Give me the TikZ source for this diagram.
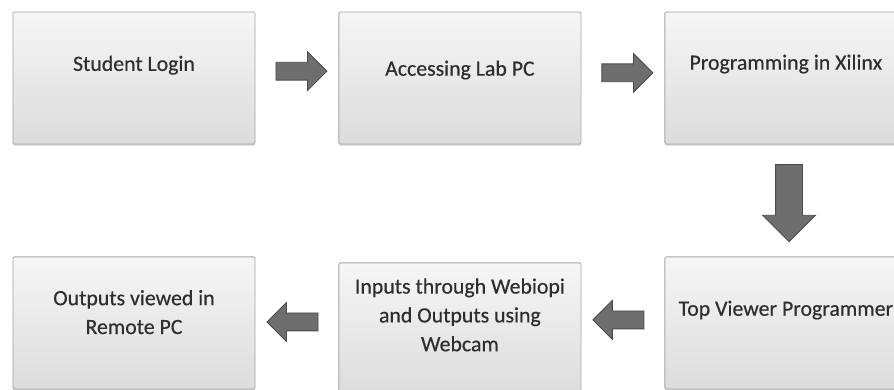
\documentclass[tikz,border=0pt]{standalone}
\usepackage{fontspec}
\setmainfont[FakeBold=0.4]{Carlito}
\usetikzlibrary{positioning,shapes.arrows,shadows,calc}

\definecolor{boxtop}{HTML}{F6F6F6}
\definecolor{boxbottom}{HTML}{DCDCDC}
\definecolor{boxline}{HTML}{A8A8A8}
\definecolor{textgray}{HTML}{2E2E2E}
\definecolor{arrowfill}{HTML}{6E6E6E}
\definecolor{arrowline}{HTML}{4A4A4A}

\begin{document}
\begin{tikzpicture}[
  x=0.025cm, y=-0.025cm,
  node distance=2.8cm and 2.075cm,
  box/.style={draw=boxline, line width=0.6pt, rounded corners=1pt,
    top color=boxtop, bottom color=boxbottom, inner sep=0pt,
    minimum width=6.05cm, minimum height=3.3cm,
    drop shadow={shadow xshift=0pt, shadow yshift=-1.2pt, opacity=0.35}},
  boxtext/.style={align=center, text=textgray, inner sep=0pt,
    font=\fontsize{15.5}{20.5}\selectfont},
  blockarrow/.style={single arrow, draw=arrowline, fill=arrowfill,
    line width=0.6pt, inner xsep=0pt, inner ysep=0.2125cm,
    single arrow head extend=0.2625cm, minimum height=1.275cm},
  bigarrow/.style={blockarrow, inner ysep=0.325cm,
    single arrow head extend=0.325cm, minimum height=1.925cm}
]
\clip (0,0) rectangle (894,389);

% process boxes
\node[box] (login) at (134,78) {};
\node[box, right=of login] (lab) {};
\node[box, right=of lab] (xilinx) {};
\node[box, below=of xilinx] (viewer) {};
\node[box, left=of viewer, yshift=-0.15cm] (webiopi) {};
\node[box, left=of webiopi, yshift=0.15cm] (remote) {};

% box labels sit a bit above the middle
\node[boxtext] (loginText)   at ([yshift=0.32cm]login.center)   {Student Login};
\node[boxtext] (labText)     at ([yshift=0.2cm]lab.center)      {Accessing Lab PC};
\node[boxtext] (xilinxText)  at ([yshift=0.35cm]xilinx.center)  {Programming in Xilinx};
\node[boxtext] (viewerText)  at ([yshift=0.32cm]viewer.center)  {Top Viewer Programmer};
\node[boxtext] (webiopiText) at ([yshift=0.35cm]webiopi.center) {Inputs through Webiopi\\and Outputs using\\Webcam};
\node[boxtext] (remoteText)  at ([yshift=0.27cm]remote.center)  {Outputs viewed in\\Remote PC};

% block arrows between the boxes
\node[blockarrow, yshift=0.17cm] (toLab) at ($(login.east)!0.5!(lab.west)$) {};
\node[blockarrow, yshift=0.13cm] (toXilinx) at ($(lab.east)!0.5!(xilinx.west)$) {};
\node[bigarrow, xshift=0.08cm, yshift=0.1cm, rotate=-90] (toViewer)
  at ($(xilinx.south)!0.5!(viewer.north)$) {};
\node[blockarrow, yshift=0.15cm, rotate=180] (toWebiopi)
  at ($(viewer.west)!0.5!(webiopi.east)$) {};
\node[blockarrow, yshift=0.1cm, rotate=180] (toRemote)
  at ($(webiopi.west)!0.5!(remote.east)$) {};
\end{tikzpicture}
\end{document}
